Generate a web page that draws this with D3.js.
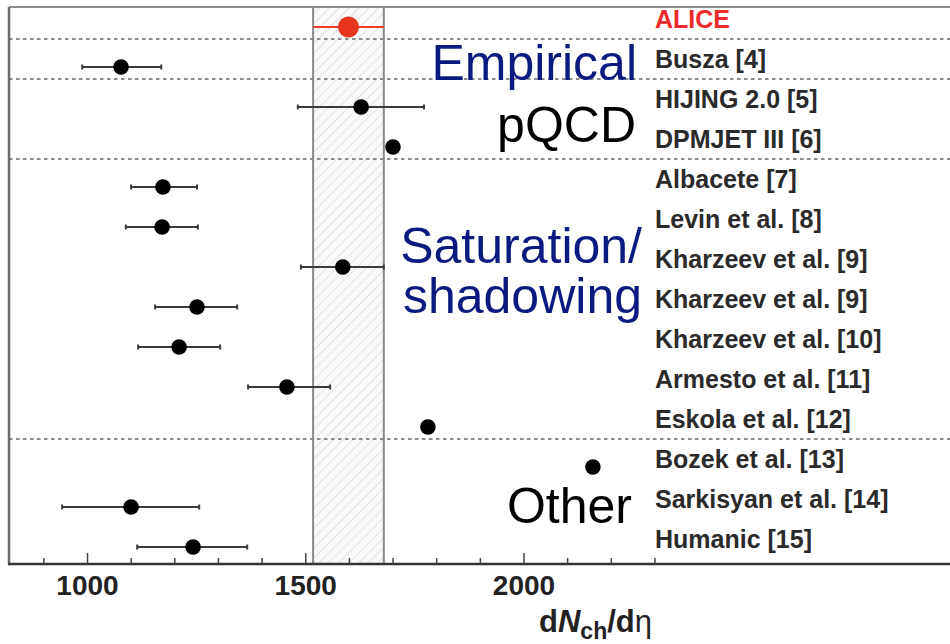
<!DOCTYPE html>
<html>
<head>
<meta charset="utf-8">
<script src="https://cdn.jsdelivr.net/npm/d3@7"></script>
<style>
  html, body { margin: 0; padding: 0; background: #fff; }
  svg { display: block; }
</style>
</head>
<body>
<svg id="chart" width="950" height="644"></svg>
<script>
// Predictions of the charged-particle pseudorapidity density compared with ALICE
const models = [
  "ALICE", "Busza [4]", "HIJING 2.0 [5]", "DPMJET III [6]", "Albacete [7]",
  "Levin et al. [8]", "Kharzeev et al. [9]", "Kharzeev et al. [9]",
  "Kharzeev et al. [10]", "Armesto et al. [11]", "Eskola et al. [12]",
  "Bozek et al. [13]", "Sarkisyan et al. [14]", "Humanic [15]"
];
const central = [1599, 1078, 1628, 1701, 1174, 1172, 1586, 1252, 1211, 1458, 1781, 2159, 1101, 1243];
const lower   = [1518,  989, 1483, null, 1101, 1089, 1490, 1156, 1117, 1369, null, null,  943, 1115];
const upper   = [1680, 1170, 1772, null, 1252, 1254, 1680, 1344, 1305, 1557, null, null, 1257, 1367];
// index of the last row in each group (dashed separators follow these rows)
const groupEnds = [0, 1, 3, 10];
const majorTicks = [1000, 1500, 2000];
const minorTicks = [900, 1100, 1200, 1300, 1400, 1600, 1700, 1800, 1900, 2100, 2200, 2300];
const groupTitles = [
  { lines: ["Empirical"], color: "#0b1a80" },
  { lines: ["pQCD"], color: "#000" },
  { lines: ["Saturation/", "shadowing"], color: "#0b1a80" },
  { lines: ["Other"], color: "#000" }
];

const svg = d3.select("#chart");
const W = 950, H = 644;
const frame = { left: 9, top: 7, bottom: 564 };
const FONT = "Liberation Sans, Arial, Helvetica, sans-serif";

const x = d3.scaleLinear().domain([1000, 2000]).range([87, 523.5]);
const y = d3.scaleLinear().domain([0, models.length - 1]).range([27, 547]);

// hatch pattern for the ALICE band
const defs = svg.append("defs");
const pat = defs.append("pattern")
  .attr("id", "hatch").attr("patternUnits", "userSpaceOnUse")
  .attr("width", 7).attr("height", 7)
  .attr("patternTransform", "rotate(45)");
pat.append("rect").attr("width", 7).attr("height", 7).attr("fill", "#fafafa");
pat.append("line").attr("x1", 0).attr("y1", 0).attr("x2", 0).attr("y2", 7)
  .attr("stroke", "#d8d8d8").attr("stroke-width", 1.4);

// ALICE band
const bandLo = x(lower[0]), bandHi = x(upper[0]);
svg.append("rect")
  .attr("x", bandLo).attr("y", frame.top)
  .attr("width", bandHi - bandLo).attr("height", frame.bottom - frame.top)
  .attr("fill", "url(#hatch)");
svg.selectAll("line.band").data([lower[0], upper[0]]).enter().append("line")
  .attr("class", "band")
  .attr("x1", d => x(d)).attr("x2", d => x(d))
  .attr("y1", frame.top).attr("y2", frame.bottom)
  .attr("stroke", "#8a8a8a").attr("stroke-width", 2);

// dashed group separators
svg.selectAll("line.sep").data(groupEnds).enter().append("line")
  .attr("class", "sep")
  .attr("x1", frame.left).attr("x2", W)
  .attr("y1", d => y(d + 0.3)).attr("y2", d => y(d + 0.3))
  .attr("stroke", "#8a8a8a").attr("stroke-width", 2)
  .attr("stroke-dasharray", "3.5,3.5");

// frame: top and left edges
svg.append("line").attr("x1", frame.left).attr("x2", W)
  .attr("y1", frame.top).attr("y2", frame.top)
  .attr("stroke", "#8c8c8c").attr("stroke-width", 2);
svg.append("line").attr("x1", frame.left).attr("x2", frame.left)
  .attr("y1", frame.top).attr("y2", frame.bottom)
  .attr("stroke", "#6a6a6a").attr("stroke-width", 2.5);

// x axis
const axisG = svg.append("g").attr("transform", `translate(0,${frame.bottom})`);
axisG.append("g")
  .call(d3.axisBottom(x).tickValues(minorTicks).tickSize(-6).tickFormat(""))
  .call(g => g.select(".domain").remove())
  .call(g => g.selectAll(".tick line").attr("stroke", "#444").attr("stroke-width", 1.5));
axisG.append("g")
  .call(d3.axisBottom(x).tickValues(majorTicks).tickSize(-11).tickFormat(d3.format("d")))
  .call(g => g.select(".domain").remove())
  .call(g => g.selectAll(".tick line").attr("stroke", "#444").attr("stroke-width", 1.5))
  .call(g => g.selectAll(".tick text")
    .attr("y", 31).attr("dy", 0)
    .attr("font-family", FONT)
    .attr("font-weight", "bold").attr("font-size", 28).attr("fill", "#222"));
svg.append("line").attr("x1", frame.left - 1).attr("x2", W)
  .attr("y1", frame.bottom).attr("y2", frame.bottom)
  .attr("stroke", "#333").attr("stroke-width", 2.5);

// axis title dN_ch/dη
const title = svg.append("text")
  .attr("x", 652).attr("y", 632).attr("text-anchor", "end")
  .attr("font-family", FONT)
  .attr("font-weight", "bold").attr("font-size", 31).attr("fill", "#222");
title.append("tspan").text("d");
title.append("tspan").attr("font-style", "italic").text("N");
title.append("tspan").attr("font-size", 23).attr("dy", 7).text("ch");
title.append("tspan").attr("dy", -7).text("/d");
title.append("tspan").attr("font-weight", "normal").text("η");

// error bars
const rows = models.map((m, i) => ({ name: m, i, v: central[i], lo: lower[i], hi: upper[i] }));
const withErr = rows.filter(d => d.lo !== null);
const eb = svg.append("g");
eb.selectAll("line.err").data(withErr).enter().append("line")
  .attr("x1", d => x(d.lo)).attr("x2", d => x(d.hi))
  .attr("y1", d => y(d.i)).attr("y2", d => y(d.i))
  .attr("stroke", d => d.i === 0 ? "#e8402a" : "#3a3a3a").attr("stroke-width", 2);
eb.selectAll("line.capL").data(withErr.filter(d => d.i > 0)).enter().append("line")
  .attr("x1", d => x(d.lo)).attr("x2", d => x(d.lo))
  .attr("y1", d => y(d.i) - 2.5).attr("y2", d => y(d.i) + 2.5)
  .attr("stroke", "#3a3a3a").attr("stroke-width", 2);
eb.selectAll("line.capR").data(withErr.filter(d => d.i > 0)).enter().append("line")
  .attr("x1", d => x(d.hi)).attr("x2", d => x(d.hi))
  .attr("y1", d => y(d.i) - 2.5).attr("y2", d => y(d.i) + 2.5)
  .attr("stroke", "#3a3a3a").attr("stroke-width", 2);

// markers
svg.selectAll("circle.pt").data(rows).enter().append("circle")
  .attr("cx", d => x(d.v)).attr("cy", d => y(d.i))
  .attr("r", d => d.i === 0 ? 10.5 : 7.8)
  .attr("fill", d => d.i === 0 ? "#e8361e" : "#000");

// model labels
svg.selectAll("text.model").data(rows).enter().append("text")
  .attr("x", 655).attr("y", d => y(d.i) + 1)
  .attr("font-family", FONT)
  .attr("font-weight", "bold").attr("font-size", 25)
  .attr("fill", d => d.i === 0 ? "#ee2b2b" : "#2a2a2a")
  .text(d => d.name);

// group titles, one text element per line
const titlePos = [
  { x: 637, y: 80 },
  { x: 636, y: 142 },
  { x: 642, y: 263 },
  { x: 632, y: 523 }
];
groupTitles.forEach((g, k) => {
  g.lines.forEach((line, j) => {
    svg.append("text")
      .attr("x", titlePos[k].x).attr("y", titlePos[k].y + j * 50)
      .attr("text-anchor", "end")
      .attr("font-family", FONT)
      .attr("font-size", 50).attr("fill", g.color)
      .text(line);
  });
});
</script>
</body>
</html>
